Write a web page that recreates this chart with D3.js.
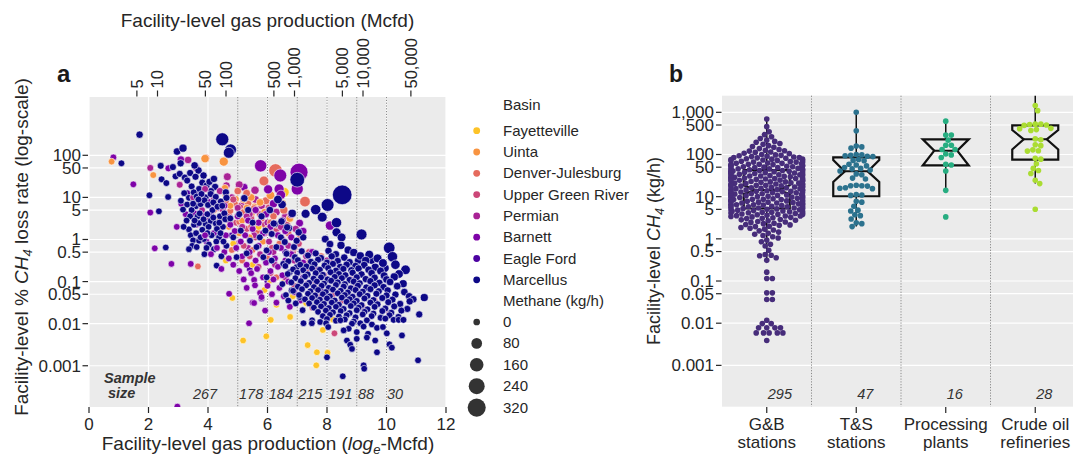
<!DOCTYPE html>
<html>
<head>
<meta charset="utf-8">
<script src="https://cdn.jsdelivr.net/npm/d3@7"></script>
<style>
  body { margin: 0; background: #fff; }
  svg { display: block; font-family: "Liberation Sans", Arial, sans-serif; }
</style>
</head>
<body>
<svg id="chart" width="1073" height="454"></svg>
<script>
// ---------- panel a : basins (x = ln Mcfd, y = log10 of % CH4 loss rate) ----------
const basinNames = ["Fayetteville", "Uinta", "Denver-Julesburg", "Upper Green River", "Permian", "Barnett", "Eagle Ford", "Marcellus"];
const basinColors = ["#fdc328", "#f89441", "#e56b5d", "#cc4778", "#a92395", "#7e03a8", "#4c02a1", "#0d0887"];

const fayetteville = [[6.56,1.12],[4.82,-1.39],[5.18,-2.40],[5.96,-2.30],[6.11,-1.91],[6.76,-1.84],[7.64,-2.99],[7.66,-2.68],[8.02,-2.69],[7.35,-2.51],[7.86,-2.15],[6.09,-0.97],[6.56,-1.01],[7.10,-1.45],[7.30,-1.51],[6.85,-1.35],[5.50,-0.60],[5.90,-1.20],[6.30,-1.55],[7.90,-1.60],[4.85,-0.10],[5.70,0.30],[4.60,-0.50],[8.20,-1.90]];

const uinta = [[0.76,1.85],[2.16,1.53],[4.53,1.85],[3.90,1.92],[4.57,1.22],[4.93,0.96],[5.46,0.59],[5.68,0.10],[4.99,0.55],[5.57,0.78],[4.60,1.05],[4.75,0.80],[5.15,0.45],[5.30,0.75],[5.45,1.00],[5.75,0.88],[5.90,0.65],[6.10,1.05],[6.30,0.35],[4.70,0.30],[5.05,0.15],[5.40,0.05],[5.85,-0.05],[6.50,0.85],[6.75,0.50],[4.45,0.55],[5.20,0.95],[6.00,0.25]];

const denverJulesburg = [[3.92,1.93],[5.88,1.39],[6.27,1.64],[7.26,0.90],[3.66,-0.64],[4.60,0.90],[4.75,0.68],[4.90,0.85],[5.05,0.42],[5.20,0.65],[5.35,0.86],[5.45,0.30],[5.55,0.74],[5.65,0.20],[5.80,0.50],[5.95,0.92],[6.05,0.18],[6.20,0.55],[6.40,-0.10],[6.55,0.70],[6.70,0.15],[6.90,-0.20],[7.10,0.10],[7.40,-0.55],[7.80,-0.40],[5.15,-0.50],[5.50,-0.25],[4.80,-0.25],[6.00,-0.45],[6.30,-0.90],[4.40,0.45],[4.20,0.70],[8.30,-0.85],[7.60,-1.15],[5.30,1.10],[5.00,1.15],[6.10,0.40]];

const upperGreenRiver = [[8.25,-2.23],[8.95,-1.88],[7.51,-1.62],[4.70,0.60],[4.95,0.40],[5.10,0.80],[5.30,0.25],[5.45,0.50],[5.60,0.05],[5.75,0.60],[5.90,0.35],[6.05,0.75],[6.15,-0.20],[6.30,0.25],[6.50,0.00],[6.65,0.35],[6.85,-0.30],[7.05,-0.10],[7.30,-0.75],[7.60,-1.00],[7.90,-0.85],[8.20,-1.30],[8.50,-1.45],[8.80,-0.95],[9.20,-1.60],[9.60,-1.45],[7.40,-0.30],[7.80,-1.35],[6.10,-0.80],[5.40,-0.40],[4.85,0.95],[5.20,-0.15],[5.70,-0.65],[6.90,-1.10],[8.10,-0.50],[9.00,-1.10],[10.10,-1.75]];

const permian = [[2.06,1.70],[3.33,1.89],[3.61,1.69],[4.65,1.49],[4.62,1.28],[5.58,1.17],[4.20,0.95],[4.50,0.70],[4.80,1.00],[5.00,0.75],[5.20,0.90],[5.40,0.60],[5.60,0.95],[5.80,0.80],[6.00,0.40],[6.30,0.65],[6.60,0.55],[4.70,0.45],[4.90,-0.10],[5.15,0.30],[5.35,-0.20],[5.55,0.10],[5.75,-0.35],[6.05,-0.05],[6.25,-0.60],[6.45,0.30],[6.70,-0.15],[6.95,0.25],[7.30,-0.40],[3.80,0.70],[4.00,0.45],[4.35,0.30],[3.50,1.00],[3.90,1.20],[4.40,1.15],[5.05,1.30],[6.60,-0.90],[7.60,-0.70],[8.00,-0.50],[6.90,-0.50],[5.90,0.15],[6.20,-0.30],[5.30,0.55],[4.60,-0.15],[6.80,0.60],[3.05,1.30]];

const barnett = [[0.82,1.95],[1.49,1.31],[2.06,0.64],[2.21,-0.21],[2.67,1.69],[3.09,1.90],[2.95,0.30],[2.77,-0.58],[3.42,-0.58],[2.97,-3.97],[4.71,-1.29],[5.38,-1.99],[5.77,1.75],[6.43,1.52],[7.06,1.60],[7.00,1.20],[6.39,1.20],[6.45,1.06],[6.02,1.19],[5.21,1.24],[8.10,0.33],[7.08,0.39],
  [3.25,0.60],[3.55,0.62],[3.84,0.58],[3.10,0.85],[3.72,1.10],[4.00,0.90],[4.30,0.75],[3.60,0.35],[4.20,0.15],[3.95,-0.05],
  [4.55,-0.30],[4.70,-0.45],[4.85,-0.60],[4.95,-0.20],[5.05,-0.75],[5.15,-0.40],[5.20,-0.95],[5.30,-1.15],[5.30,-0.60],[5.40,-0.30],[5.45,-0.80],[5.50,-1.50],[5.55,-1.51],[5.55,-0.96],[5.58,-1.09],[5.60,-0.50],[5.65,-0.70],[5.75,-1.27],[5.80,-1.37],[5.70,-0.15],[5.85,-0.90],[5.92,-1.69],[5.95,-0.55],[6.00,-1.10],[6.05,-0.30],[6.10,-0.75],[6.15,-1.30],[6.20,-0.95],[6.25,-0.45],[6.30,-1.50],[6.35,-0.65],[6.40,-1.15],[6.45,-0.20],[6.50,-0.85],[6.55,-1.35],[6.60,-0.50],[6.70,-1.00],[6.75,-1.60],[6.80,-0.35],[6.90,-1.25],[7.00,-0.80],[7.10,-1.45],[7.20,-0.55],[7.35,-1.05],[7.50,-0.30],
  [4.60,0.10],[4.75,0.35],[4.90,0.20],[5.00,0.55],[5.10,-0.05],[5.25,0.10],[5.35,0.45],[5.50,0.25],[5.60,0.70],[5.70,0.40],[5.85,0.15],[5.95,0.60],[6.10,0.30],[6.20,0.85],[6.35,0.10],[6.50,0.45],[6.60,0.20],[6.80,0.05],[7.20,0.20],[4.55,0.80],[4.30,-0.20],[4.45,-0.70],[3.90,0.10],[4.10,-0.35]];

const eagleFord = [[3.30,1.10],[4.10,0.60],[4.80,0.10],[5.40,-0.70],[6.00,-1.00],[6.60,-0.30],[7.20,-0.90],[7.80,-1.20],[5.10,0.40],[3.70,0.00],[8.40,-1.60],[5.80,-1.40]];

const marcellus = [
  [1.70,2.49],[1.09,1.81],[2.03,1.05],[2.35,0.67],[2.58,-0.19],[2.41,1.75],[2.44,1.43],[2.60,1.34],[2.66,1.01],[2.96,2.09],[3.16,2.17],[3.08,1.81],[2.82,1.72],[2.91,1.50],[3.05,1.56],[3.22,1.47],[3.40,1.58],[3.58,1.49],[3.68,1.64],[3.55,1.76],[3.30,1.40],[3.85,1.52],[3.81,1.35],[3.95,1.28],[4.05,1.37],[4.20,1.44],[4.24,1.25],[4.10,1.15],[3.70,1.20],[3.45,1.26],[3.20,1.10],[3.09,0.92],[3.36,0.99],[3.30,0.83],[3.59,0.79],[3.45,0.70],[3.16,0.71],[3.75,0.84],[3.92,1.00],[4.09,1.08],[4.26,1.01],[4.43,0.90],[4.60,1.12],[4.62,0.99],[3.36,0.24],[3.53,0.35],[3.70,0.39],[3.92,0.37],[3.81,0.23],[4.09,0.44],[4.26,0.38],[3.42,0.10],[3.50,-0.02],[3.70,-0.03],[3.86,0.01],[4.03,-0.12],[4.20,-0.23],[4.37,0.05],[3.47,-0.15],[3.36,-0.23],[4.29,-0.62],[4.48,2.38],[4.76,2.13],[4.70,2.06],[3.98,0.60],[4.15,0.70],[3.65,0.55],[4.40,0.55],[4.50,0.30],[4.55,0.62],[3.88,-0.35],[4.45,-0.40],[4.62,-0.15],
  [3.52,1.12],[3.62,1.02],[3.78,1.08],[3.88,0.93],[4.00,0.82],[4.18,0.88],[4.32,0.78],[3.40,0.55],[3.55,0.45],[3.72,0.62],[3.85,0.48],[4.02,0.30],[4.18,0.52],[4.30,0.25],[4.42,0.15],[3.60,0.15],[3.75,0.05],[3.95,-0.20],[4.12,0.10],[4.28,-0.05],[4.52,-0.05],[3.62,-0.18],[3.98,0.15],[4.38,0.40],[3.28,0.45],[3.18,0.30],[4.48,0.80],[4.58,0.48],[3.50,0.85],[3.68,0.95],
  [5.22,0.98],[6.08,0.70],[6.25,0.37],[6.47,0.43],[6.72,0.27],[6.14,0.13],[5.93,0.21],[5.74,0.05],[5.41,-0.03],[5.63,-0.18],[5.97,-0.26],[6.30,-0.18],[6.64,-0.34],[6.89,-0.18],[6.98,-0.03],[7.20,0.05],[6.45,0.05],[6.58,-0.06],[4.85,0.05],[5.10,0.21],[5.30,-0.33],[4.96,-0.42],[5.86,-0.42],[6.14,-0.50],[6.53,-0.58],[6.75,-0.78],[6.98,-0.66],[6.50,-1.06],[6.81,-1.21],[7.09,-1.37],[5.97,-0.90],[6.83,0.62],[7.28,0.61],[7.62,0.71],[7.84,0.53],[8.02,0.82],[8.51,1.06],[8.32,0.40],[8.32,0.17],[8.49,0.05],[9.16,0.12],[7.94,0.01],[8.47,-0.14],[8.71,-0.25],[9.05,-0.50],[9.50,-0.49],[9.95,-0.68],[10.09,-0.20],[10.20,-0.41],[10.64,-0.72],[7.00,1.42],[6.49,0.83],[6.66,0.29],[6.21,0.38],[7.05,0.17],[8.10,-0.11],[5.05,0.60],[5.50,0.40],[5.80,0.55],[4.75,0.50],[5.35,0.70],[6.35,0.95],
  [7.15,-0.28],[7.62,-0.33],[8.05,-0.27],[8.30,-0.35],[8.90,-0.31],[9.42,-0.36],
  [6.92,-0.42],[7.36,-0.38],[7.80,-0.44],[8.16,-0.40],[8.58,-0.43],[9.12,-0.39],[9.70,-0.45],
  [6.70,-0.52],[7.02,-0.49],[7.46,-0.53],[7.70,-0.48],[8.00,-0.55],[8.36,-0.51],[8.76,-0.54],[9.30,-0.50],[9.88,-0.56],
  [6.60,-0.63],[7.10,-0.60],[7.31,-0.64],[7.58,-0.59],[7.92,-0.62],[8.20,-0.58],[8.44,-0.65],[8.66,-0.60],[8.96,-0.63],[9.25,-0.61],[9.62,-0.66],[10.30,-0.60],
  [6.86,-0.71],[7.20,-0.73],[7.50,-0.69],[7.76,-0.72],[8.04,-0.68],[8.30,-0.74],[8.55,-0.70],[8.82,-0.73],[9.06,-0.69],[9.40,-0.72],[9.80,-0.75],
  [6.68,-0.82],[7.00,-0.79],[7.35,-0.83],[7.62,-0.80],[7.86,-0.84],[8.12,-0.78],[8.40,-0.82],[8.62,-0.85],[8.86,-0.79],[9.16,-0.83],[9.50,-0.80],[9.92,-0.86],[10.42,-0.82],
  [6.94,-0.92],[7.26,-0.88],[7.55,-0.93],[7.80,-0.90],[8.02,-0.95],[8.26,-0.89],[8.50,-0.92],[8.76,-0.96],[9.00,-0.90],[9.30,-0.94],[9.60,-0.91],[10.00,-0.95],[10.26,-0.89],
  [6.80,-1.02],[7.12,-0.99],[7.40,-1.03],[7.66,-1.00],[7.90,-1.05],[8.14,-0.98],[8.36,-1.02],[8.60,-1.06],[8.90,-1.00],[9.10,-1.04],[9.46,-0.99],[9.76,-1.03],[10.12,-1.01],[10.56,-1.05],
  [7.02,-1.12],[7.30,-1.09],[7.56,-1.13],[7.82,-1.10],[8.06,-1.15],[8.30,-1.08],[8.56,-1.12],[8.80,-1.16],[9.04,-1.10],[9.32,-1.14],[9.60,-1.09],[9.90,-1.13],[10.36,-1.11],
  [6.86,-1.22],[7.16,-1.18],[7.44,-1.23],[7.70,-1.20],[7.96,-1.25],[8.20,-1.19],[8.46,-1.22],[8.70,-1.26],[8.96,-1.20],[9.20,-1.24],[9.46,-1.18],[9.74,-1.23],[10.04,-1.21],[10.60,-1.25],
  [7.06,-1.32],[7.36,-1.29],[7.60,-1.33],[7.86,-1.30],[8.10,-1.35],[8.36,-1.28],[8.60,-1.32],[8.86,-1.36],[9.10,-1.30],[9.36,-1.34],[9.66,-1.29],[10.00,-1.33],[10.30,-1.31],[10.76,-1.35],
  [7.26,-1.42],[7.50,-1.39],[7.76,-1.43],[8.00,-1.40],[8.26,-1.45],[8.50,-1.38],[8.76,-1.42],[9.00,-1.46],[9.26,-1.40],[9.56,-1.44],[9.86,-1.39],[10.20,-1.43],[10.90,-1.42],[11.27,-1.38],
  [7.40,-1.52],[7.66,-1.49],[7.90,-1.53],[8.16,-1.50],[8.40,-1.55],[8.66,-1.48],[8.90,-1.52],[9.16,-1.56],[9.46,-1.50],[9.70,-1.54],[10.06,-1.49],[10.46,-1.53],[10.78,-1.47],
  [7.56,-1.62],[7.80,-1.59],[8.06,-1.63],[8.30,-1.60],[8.56,-1.65],[8.80,-1.58],[9.06,-1.62],[9.36,-1.66],[9.60,-1.60],[9.96,-1.64],[10.26,-1.59],[10.70,-1.65],
  [7.70,-1.72],[7.96,-1.69],[8.20,-1.73],[8.46,-1.70],[8.76,-1.75],[9.00,-1.68],[9.26,-1.72],[9.56,-1.76],[9.86,-1.70],[10.16,-1.74],[10.50,-1.69],
  [7.86,-1.82],[8.10,-1.79],[8.40,-1.83],[8.66,-1.80],[8.96,-1.85],[9.20,-1.78],[9.50,-1.82],[9.80,-1.86],[10.10,-1.80],[10.40,-1.84],[11.10,-1.78],
  [7.50,-1.92],[8.00,-1.89],[8.30,-1.93],[8.60,-1.90],[8.90,-1.95],[9.34,-1.92],[9.96,-1.88],[10.24,-1.91],[10.41,-1.91],[10.57,-1.91],
  [7.21,-1.99],[7.49,-1.99],[7.77,-1.96],[7.97,-1.99],[8.45,-1.92],[8.84,-2.00],[9.12,-1.99],[9.51,-2.02],
  [8.04,-2.08],[8.73,-2.12],[9.23,-2.07],[9.68,-2.10],[9.88,-2.08],
  [8.56,-2.16],[9.00,-2.20],[9.38,-2.24],[10.01,-2.23],[10.52,-2.28],
  [8.67,-2.40],[9.00,-2.36],[9.34,-2.33],[9.62,-2.40],
  [8.78,-2.50],[8.84,-2.60],[10.10,-2.49],[10.18,-2.57],
  [9.68,-2.68],[8.00,-2.80],[9.23,-2.99],[9.25,-3.07],[8.53,-3.25],[11.06,-2.87],
  [6.62,-1.32],[6.95,-1.52],[7.18,-1.68],[6.70,-1.45]
];

const basinData = [fayetteville, uinta, denverJulesburg, upperGreenRiver, permian, barnett, eagleFord, marcellus];
const drawOrder = [5, 6, 7, 4, 3, 2, 1, 0];

const methaneLegend = [0, 80, 160, 240, 320];
const KGH_PER_MCFD = 0.68;   // kg/h of CH4 per Mcfd of gas lost

const xTicksA = [0, 2, 4, 6, 8, 10, 12];
const mcfdTicks = [5, 10, 50, 100, 500, 1000, 5000, 10000, 50000];
const lossTicks = [100, 50, 10, 5, 1, 0.5, 0.1, 0.05, 0.01, 0.001];
const binEdges = [5, 6, 7, 8, 9, 10];
const sampleSizes = [267, 178, 184, 215, 191, 88, 30];
const samplePos = [3.9, 5.45, 6.45, 7.44, 8.45, 9.31, 10.29];

// ---------- panel b : facilities (log10 kg/h) ----------
const facilityLines = [["G&B", "stations"], ["T&S", "stations"], ["Processing", "plants"], ["Crude oil", "refineries"]];
const facilityColors = ["#472d7b", "#2c728e", "#27ad81", "#aadc32"];
const facilityCounts = [295, 47, 16, 28];

const gbStations = [2.84, 2.66, 2.54, 2.47, 2.42, 2.38, 2.34, 2.31, 2.29, 2.26, 2.24, 2.21,
  2.19, 2.17, 2.14, 2.12, 2.10, 2.09, 2.08, 2.06, 2.05, 2.03, 2.02, 2.00,
  1.99, 1.98, 1.97, 1.96, 1.95, 1.94, 1.93, 1.93, 1.92, 1.91, 1.90,
  1.89, 1.89, 1.88, 1.87, 1.86, 1.85, 1.85, 1.84, 1.83, 1.82, 1.82, 1.81, 1.80,
  1.79, 1.79, 1.78, 1.77, 1.77, 1.76, 1.75, 1.75, 1.74, 1.73, 1.73, 1.72, 1.71, 1.71, 1.70,
  1.69, 1.69, 1.68, 1.67, 1.66, 1.66, 1.65, 1.64, 1.64, 1.63, 1.62, 1.62, 1.61, 1.60, 1.60,
  1.59, 1.59, 1.58, 1.57, 1.57, 1.56, 1.55, 1.55, 1.54, 1.53, 1.52, 1.52, 1.51, 1.51, 1.50,
  1.49, 1.49, 1.48, 1.47, 1.46, 1.46, 1.45, 1.44, 1.44, 1.43, 1.43, 1.42, 1.41, 1.41, 1.40,
  1.39, 1.39, 1.38, 1.37, 1.37, 1.36, 1.35, 1.35, 1.34, 1.33, 1.32, 1.32, 1.31, 1.30, 1.30,
  1.29, 1.29, 1.28, 1.27, 1.27, 1.26, 1.25, 1.24, 1.24, 1.23, 1.23, 1.22, 1.21, 1.21, 1.20,
  1.19, 1.19, 1.18, 1.17, 1.16, 1.16, 1.15, 1.15, 1.14, 1.13, 1.13, 1.12, 1.11, 1.11, 1.10,
  1.09, 1.09, 1.08, 1.07, 1.07, 1.06, 1.05, 1.05, 1.04, 1.03, 1.02, 1.02, 1.01, 1.01, 1.00,
  0.99, 0.99, 0.98, 0.97, 0.97, 0.96, 0.95, 0.94, 0.94, 0.93, 0.93, 0.92, 0.91, 0.91, 0.90,
  0.89, 0.89, 0.88, 0.87, 0.87, 0.86, 0.85, 0.85, 0.84, 0.83, 0.82, 0.82, 0.81, 0.81, 0.80,
  0.79, 0.79, 0.78, 0.77, 0.76, 0.76, 0.75, 0.74, 0.73, 0.73, 0.72, 0.71, 0.71, 0.70,
  0.69, 0.69, 0.68, 0.67, 0.66, 0.66, 0.65, 0.64, 0.63, 0.63, 0.62, 0.61, 0.61, 0.60,
  0.59, 0.58, 0.58, 0.57, 0.56, 0.55, 0.54, 0.54, 0.53, 0.52, 0.51, 0.50,
  0.49, 0.48, 0.46, 0.45, 0.44, 0.43, 0.41, 0.40,
  0.39, 0.37, 0.36, 0.34, 0.33, 0.32, 0.30,
  0.29, 0.27, 0.25, 0.23, 0.21,
  0.19, 0.16, 0.13, 0.11,
  0.08, 0.05, 0.02, -0.03, -0.07, -0.13, -0.17, -0.27, -0.37, -0.39, -0.40, -0.45, -0.51,
  -0.79, -0.94, -0.94, -1.28, -1.28, -1.44, -1.44, -1.93, -2.01, -2.01,
  -2.11, -2.11, -2.11, -2.11, -2.23, -2.23, -2.23, -2.23, -2.23, -2.41];

const tsStations = [3.00, 2.56, 2.20, 2.18, 2.15, 2.00, 1.99, 1.98, 1.97, 1.96, 1.95, 1.88, 1.86, 1.85,
  1.77, 1.75, 1.73, 1.69, 1.67, 1.66, 1.63, 1.61, 1.54, 1.52, 1.44, 1.42,
  1.27, 1.26, 1.26, 1.25, 1.21, 1.20, 1.19, 1.05, 1.04, 1.03,
  0.89, 0.87, 0.77, 0.68, 0.66, 0.57, 0.55, 0.47, 0.38, 0.36, 0.29];

const processingPlants = [2.79, 2.46, 2.46, 2.34, 2.22, 2.22, 2.12, 2.12, 2.01, 1.99, 1.93, 1.77, 1.75, 1.61, 1.15, 0.52];

const crudeRefineries = [3.55, 3.16, 3.04, 2.72, 2.72, 2.71, 2.70, 2.69, 2.62, 2.61, 2.59, 2.57,
  2.37, 2.35, 2.23, 2.21, 2.11, 2.09, 2.08, 1.91, 1.89, 1.78, 1.67, 1.62, 1.55, 1.39, 1.31, 0.70];

const facilityData = [gbStations, tsStations, processingPlants, crudeRefineries];

// box statistics (log10 kg/h)
const boxQ1 = [0.72, 1.01, 1.74, 1.88];
const boxMedian = [1.16, 1.60, 2.09, 2.36];
const boxQ3 = [1.63, 1.93, 2.36, 2.69];
const notchLow = [1.06, 1.35, 1.74, 2.12];
const notchHigh = [1.27, 1.87, 2.36, 2.58];
const whiskerLow = [-0.51, 0.29, 1.15, 1.31];
const whiskerHigh = [2.84, 3.00, 2.79, 3.55];

const kgTicks = [1000, 500, 100, 50, 10, 5, 1, 0.5, 0.1, 0.05, 0.01, 0.001];

// ---------------------------------------------------------------------------
const svg = d3.select("#chart");
const ink = "#262626";
const bg = "#ebebeb";
const fmt = d3.format(",");
const tickSize = 17;

const xA = d3.scaleLinear().domain([0, 12]).range([89, 446]);
const yA = d3.scaleLinear().domain([-3.98, 3.385]).range([407, 97]);

const methane = d => Math.exp(d[0]) * Math.pow(10, d[1]) / 100 * KGH_PER_MCFD;
const area = d3.scaleLinear().domain([0, 320]).range([35, 256]);
const radius = kg => Math.sqrt(area(kg) / Math.PI);

// ----- panel a frame -----
const gA = svg.append("g");
gA.append("rect").attr("x", 89).attr("y", 97).attr("width", 357).attr("height", 310).attr("fill", bg);

gA.append("g").selectAll("line").data(lossTicks).enter().append("line")
  .attr("x1", 89).attr("x2", 446)
  .attr("y1", d => yA(Math.log10(d))).attr("y2", d => yA(Math.log10(d)))
  .attr("stroke", "#fff").attr("stroke-width", 1.2);

gA.append("g").selectAll("line").data(xTicksA).enter().append("line")
  .attr("x1", d => xA(d)).attr("x2", d => xA(d))
  .attr("y1", 97).attr("y2", 407)
  .attr("stroke", "#fff").attr("stroke-width", 1.2);

gA.append("g").selectAll("line").data(binEdges).enter().append("line")
  .attr("x1", d => xA(d)).attr("x2", d => xA(d))
  .attr("y1", 97).attr("y2", 407)
  .attr("stroke", "#8a8a8a").attr("stroke-width", 1).attr("stroke-dasharray", "1.2,1.6");

svg.append("clipPath").attr("id", "clipA")
  .append("rect").attr("x", 89).attr("y", 97).attr("width", 357).attr("height", 310);

// interleave basins so the colours mix like the original plotting order
let points = [];
const longest = d3.max(basinData, a => a.length);
for (let k = 0; k < longest; k++) {
  drawOrder.forEach(b => { if (basinData[b][k]) points.push({ d: basinData[b][k], b }); });
}

gA.append("g").attr("clip-path", "url(#clipA)")
  .selectAll("circle").data(points).enter().append("circle")
  .attr("cx", p => xA(p.d[0]))
  .attr("cy", p => yA(p.d[1]))
  .attr("r", p => radius(methane(p.d)))
  .attr("fill", p => basinColors[p.b])
  .attr("stroke", "#fff").attr("stroke-width", 0.6);

// sample size text
gA.append("text").attr("x", 104).attr("y", 383).text("Sample")
  .attr("font-size", 14.5).attr("font-weight", "bold").attr("font-style", "italic").attr("fill", "#333");
gA.append("text").attr("x", 108).attr("y", 398).text("size")
  .attr("font-size", 14.5).attr("font-weight", "bold").attr("font-style", "italic").attr("fill", "#333");
gA.append("g").selectAll("text").data(sampleSizes).enter().append("text")
  .attr("x", (d, i) => xA(samplePos[i])).attr("y", 399)
  .attr("text-anchor", "middle").attr("font-size", 14.5).attr("font-style", "italic").attr("fill", "#333")
  .text(d => d);

// left axis
const yAxisA = gA.append("g");
lossTicks.forEach(t => {
  const y = yA(Math.log10(t));
  yAxisA.append("line").attr("x1", 82.5).attr("x2", 88).attr("y1", y).attr("y2", y).attr("stroke", ink).attr("stroke-width", 1.2);
  yAxisA.append("text").attr("x", 81).attr("y", y).attr("dy", "0.35em").attr("text-anchor", "end")
    .attr("font-size", tickSize).attr("fill", ink).text(fmt(t));
});

// bottom axis
xTicksA.forEach(t => {
  gA.append("line").attr("x1", xA(t)).attr("x2", xA(t)).attr("y1", 407).attr("y2", 413).attr("stroke", ink).attr("stroke-width", 1.2);
  gA.append("text").attr("x", xA(t)).attr("y", 429.5).attr("text-anchor", "middle")
    .attr("font-size", tickSize).attr("fill", ink).text(t);
});

// top axis (Mcfd)
mcfdTicks.forEach(t => {
  const x = xA(Math.log(t));
  gA.append("line").attr("x1", x).attr("x2", x).attr("y1", 90.5).attr("y2", 96.5).attr("stroke", ink).attr("stroke-width", 1.2);
  gA.append("text").attr("transform", `translate(${x},88.5) rotate(-90)`).attr("dy", "0.36em")
    .attr("font-size", 16.5).attr("fill", ink).text(fmt(t));
});

gA.append("text").attr("x", 267.5).attr("y", 27).attr("text-anchor", "middle")
  .attr("font-size", 19).attr("fill", ink).text("Facility-level gas production (Mcfd)");

const xTitle = gA.append("text").attr("x", 268).attr("y", 450).attr("text-anchor", "middle")
  .attr("font-size", 19).attr("fill", ink);
xTitle.append("tspan").text("Facility-level gas production (");
xTitle.append("tspan").attr("font-style", "italic").text("log");
xTitle.append("tspan").attr("font-style", "italic").attr("font-size", 13).attr("dy", 4).text("e");
xTitle.append("tspan").attr("dy", -4).text("-Mcfd)");

const yTitleA = gA.append("text").attr("transform", "translate(28,247) rotate(-90)")
  .attr("text-anchor", "middle").attr("font-size", 19).attr("fill", ink);
yTitleA.append("tspan").text("Facility-level % ");
yTitleA.append("tspan").attr("font-style", "italic").text("CH");
yTitleA.append("tspan").attr("font-style", "italic").attr("font-size", 13).attr("dy", 4).text("4");
yTitleA.append("tspan").attr("dy", -4).text(" loss rate (log-scale)");

gA.append("text").attr("x", 57).attr("y", 82).attr("font-size", 24).attr("font-weight", "bold").attr("fill", "#1a1a1a").text("a");

// legend
const leg = svg.append("g").attr("font-size", 15).attr("fill", ink);
const legX = 476.7, legTx = 503;
leg.append("text").attr("x", legTx).attr("y", 110).text("Basin");
basinNames.forEach((name, i) => {
  const y = 130.7 + i * 21.3;
  leg.append("circle").attr("cx", legX).attr("cy", y).attr("r", 3.4).attr("fill", basinColors[i]);
  leg.append("text").attr("x", legTx).attr("y", y + 5).text(name);
});
leg.append("text").attr("x", legTx).attr("y", 306).text("Methane (kg/h)");
methaneLegend.forEach((v, i) => {
  const y = 322 + i * 21.4;
  leg.append("circle").attr("cx", legX).attr("cy", y).attr("r", radius(v)).attr("fill", "#333");
  leg.append("text").attr("x", legTx).attr("y", y + 5).text(v);
});

// ----- panel b -----
const xB = d3.scaleBand().domain(d3.range(4)).range([722, 1080]);
const yB = d3.scaleLinear().domain([-3.98, 3.394]).range([406.7, 95.7]);
const gB = svg.append("g");

gB.append("rect").attr("x", 722).attr("y", 95.7).attr("width", 360).attr("height", 311).attr("fill", bg);
gB.append("g").selectAll("line").data(kgTicks).enter().append("line")
  .attr("x1", 722).attr("x2", 1080)
  .attr("y1", d => yB(Math.log10(d))).attr("y2", d => yB(Math.log10(d)))
  .attr("stroke", "#fff").attr("stroke-width", 1.2);
gB.append("g").selectAll("line").data([1, 2, 3]).enter().append("line")
  .attr("x1", d => xB(d)).attr("x2", d => xB(d))
  .attr("y1", 95.7).attr("y2", 406.7)
  .attr("stroke", "#8a8a8a").attr("stroke-width", 1).attr("stroke-dasharray", "1.2,1.6");

svg.append("clipPath").attr("id", "clipB")
  .append("rect").attr("x", 722).attr("y", 95.7).attr("width", 360).attr("height", 311);
const plotB = gB.append("g").attr("clip-path", "url(#clipB)");

// boxes
const boxW = 23, notchW = 11.5;
d3.range(4).forEach(i => {
  const c = xB(i) + xB.bandwidth() / 2;
  plotB.append("line").attr("x1", c).attr("x2", c).attr("y1", yB(boxQ3[i])).attr("y2", yB(whiskerHigh[i]))
    .attr("stroke", "#111").attr("stroke-width", 1.5);
  plotB.append("line").attr("x1", c).attr("x2", c).attr("y1", yB(boxQ1[i])).attr("y2", yB(whiskerLow[i]))
    .attr("stroke", "#111").attr("stroke-width", 1.5);
  const pts = [
    [c - boxW, yB(boxQ1[i])], [c + boxW, yB(boxQ1[i])], [c + boxW, yB(notchLow[i])],
    [c + notchW, yB(boxMedian[i])], [c + boxW, yB(notchHigh[i])], [c + boxW, yB(boxQ3[i])],
    [c - boxW, yB(boxQ3[i])], [c - boxW, yB(notchHigh[i])], [c - notchW, yB(boxMedian[i])],
    [c - boxW, yB(notchLow[i])]
  ];
  plotB.append("path").attr("d", d3.line()(pts) + "Z")
    .attr("fill", "none").attr("stroke", "#111").attr("stroke-width", 2.2).attr("stroke-linejoin", "miter");
  plotB.append("line").attr("x1", c - notchW).attr("x2", c + notchW)
    .attr("y1", yB(boxMedian[i])).attr("y2", yB(boxMedian[i]))
    .attr("stroke", "#111").attr("stroke-width", 2);
});

// swarm layout; points that do not fit in the band are pushed to its edge
function swarm(values, d, limit) {
  const pts = values.map(v => ({ v, y: yB(v) })).sort((a, b) => a.y - b.y);
  const placed = [];
  pts.forEach(p => {
    const near = placed.filter(q => Math.abs(q.y - p.y) < d);
    const cands = [0];
    near.forEach(q => {
      const dx = Math.sqrt(d * d - (q.y - p.y) ** 2);
      cands.push(q.x + dx, q.x - dx);
    });
    cands.sort((a, b) => Math.abs(a) - Math.abs(b));
    p.x = cands.find(c => near.every(q => (c - q.x) ** 2 + (p.y - q.y) ** 2 >= d * d - 0.01));
    placed.push(p);
  });
  placed.forEach(p => { if (Math.abs(p.x) > limit) p.x = Math.sign(p.x) * limit; });
  return placed;
}

facilityData.forEach((vals, i) => {
  const c = xB(i) + xB.bandwidth() / 2;
  plotB.append("g").selectAll("circle").data(swarm(vals, 5.6, xB.bandwidth() * 0.4)).enter().append("circle")
    .attr("cx", p => c + p.x).attr("cy", p => p.y).attr("r", 2.8)
    .attr("fill", facilityColors[i]);
});

// counts
gB.append("g").selectAll("text").data(facilityCounts).enter().append("text")
  .attr("x", (d, i) => xB(i) + xB.bandwidth() / 2 + 1).attr("y", 399)
  .attr("font-size", 14.5).attr("font-style", "italic").attr("fill", "#333").text(d => d);

// axes b
kgTicks.forEach(t => {
  const y = yB(Math.log10(t));
  gB.append("line").attr("x1", 716).attr("x2", 721.5).attr("y1", y).attr("y2", y).attr("stroke", ink).attr("stroke-width", 1.2);
  gB.append("text").attr("x", 714).attr("y", y).attr("dy", "0.35em").attr("text-anchor", "end")
    .attr("font-size", tickSize).attr("fill", ink).text(fmt(t));
});
facilityLines.forEach((lines, i) => {
  const c = xB(i) + xB.bandwidth() / 2;
  gB.append("line").attr("x1", c).attr("x2", c).attr("y1", 407).attr("y2", 413).attr("stroke", ink).attr("stroke-width", 1.2);
  lines.forEach((s, k) => {
    gB.append("text").attr("x", c).attr("y", 430 + k * 18).attr("text-anchor", "middle")
      .attr("font-size", tickSize).attr("fill", ink).text(s);
  });
});

const yTitleB = gB.append("text").attr("transform", "translate(660,251) rotate(-90)")
  .attr("text-anchor", "middle").attr("font-size", 18).attr("fill", ink);
yTitleB.append("tspan").text("Facility-level ");
yTitleB.append("tspan").attr("font-style", "italic").text("CH");
yTitleB.append("tspan").attr("font-style", "italic").attr("font-size", 12.5).attr("dy", 4).text("4");
yTitleB.append("tspan").attr("dy", -4).text(" (kg/h)");

gB.append("text").attr("x", 669).attr("y", 82).attr("font-size", 23).attr("font-weight", "bold").attr("fill", "#1a1a1a").text("b");
</script>
</body>
</html>
